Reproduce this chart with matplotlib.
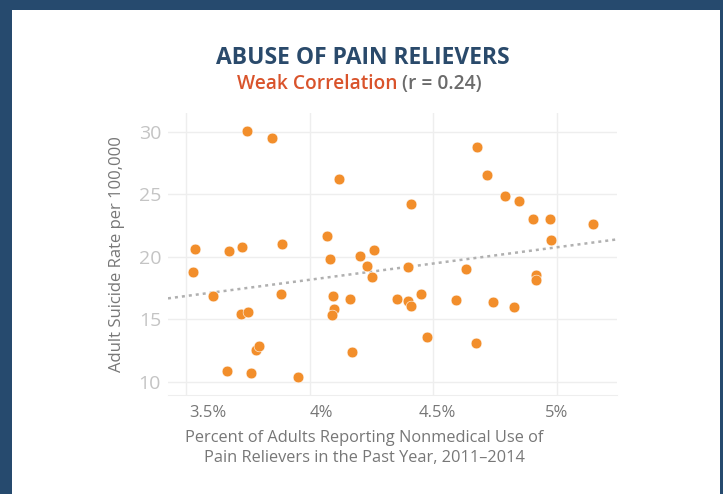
import numpy as np
import matplotlib as mpl
mpl.use("Agg")
import matplotlib.pyplot as plt
from matplotlib.transforms import ScaledTranslation

mpl.rcParams.update({"font.family": ["Open Sans", "DejaVu Sans"]})

# percent of adults reporting nonmedical use of pain relievers (x) vs suicide rate (y)
pct_use = [3.530, 3.536, 3.610, 3.675, 3.725, 3.745, 3.849, 3.887, 3.883, 3.721,
           3.749, 3.783, 3.795, 3.664, 3.764, 3.953, 4.117, 4.071, 4.082, 4.095,
           4.099, 4.091, 4.163, 4.172, 4.203, 4.260, 4.233, 4.252, 4.409, 4.399,
           4.353, 4.399, 4.409, 4.449, 4.476, 4.676, 4.718, 4.633, 4.590, 4.671,
           4.740, 4.826, 4.791, 4.845, 4.903, 4.971, 4.975, 4.915, 4.915, 5.145]
suicide_rate = [18.8, 20.64, 16.86, 20.48, 20.78, 30.08, 29.47, 21.02, 16.99, 15.39,
                15.6, 12.56, 12.86, 10.83, 10.67, 10.35, 26.22, 21.66, 19.82, 16.86,
                15.79, 15.34, 16.62, 12.35, 20.06, 20.51, 19.28, 18.38, 24.22, 19.2,
                16.62, 16.48, 16.08, 16.99, 13.55, 28.8, 26.51, 19.04, 16.54, 13.12,
                16.4, 16.0, 24.83, 24.46, 23.02, 23.02, 21.34, 18.51, 18.14, 22.64]

# trend line ends
trend_x = [3.427, 5.243]
trend_y = [16.67, 21.39]

x_ticks = [3.5, 4.0, 4.5, 5.0]
x_labels = ["3.5%", "4%", "4.5%", "5%"]
y_ticks = [10, 15, 20, 25, 30]

NAVY = "#264a6e"
ORANGE = "#f28e2b"
GREY = "#777777"

fig = plt.figure(figsize=(7.23, 4.94), dpi=100)
fig.patch.set_facecolor(NAVY)
card = plt.Rectangle((12 / 723, 0), (720 - 12) / 723, 1 - 10 / 494,
                     transform=fig.transFigure, facecolor="white", edgecolor="none", zorder=-10)
fig.patches.append(card)

ax = fig.add_axes([168 / 723, 1 - 395 / 494, (617 - 168) / 723, (395 - 113) / 494])
ax.set_facecolor("white")
ax.set_xlim(3.427, 5.243)
ax.set_ylim(8.94, 31.5)

ax.grid(True, color="#eeeeee", lw=1)
ax.set_axisbelow(True)
for s in ["top", "right", "left"]:
    ax.spines[s].set_visible(False)
ax.spines["bottom"].set_color("#eeeeee")

ax.plot(trend_x, trend_y, color="#b0b0b0", lw=1.8, ls=(0, (1.2, 1.6)), zorder=2)
ax.scatter(pct_use, suicide_rate, s=60, color=ORANGE, edgecolor="white", linewidth=0.4, zorder=3)

ax.set_xticks(x_ticks)
ax.set_xticklabels(x_labels)
ax.set_yticks(y_ticks)
ax.tick_params(axis="x", length=0, pad=7, labelsize=12, labelcolor=GREY)
ax.tick_params(axis="y", length=0, pad=5, labelsize=14, labelcolor="#c4c4c4")

# the source nudges its x tick labels to the right of the grid lines
nudge_px = [22, 12, 4, 0]
for lab, dx in zip(ax.get_xticklabels(), nudge_px):
    lab.set_transform(lab.get_transform() + ScaledTranslation(dx / 100, 0, fig.dpi_scale_trans))

ax.set_ylabel("Adult Suicide Rate per 100,000", fontsize=12, color=GREY, labelpad=10)
fig.text(364 / 723, 1 - 448 / 494,
         "Percent of Adults Reporting Nonmedical Use of\nPain Relievers in the Past Year, 2011\u20132014",
         ha="center", va="center", fontsize=11.8, color=GREY, linespacing=1.3)

fig.text(363 / 723, 1 - 58 / 494, "ABUSE OF PAIN RELIEVERS", ha="center", va="center",
         fontsize=16.5, fontweight="bold", color="#2a4a6b")
fig.text(397 / 723, 1 - 84 / 494, "Weak Correlation", ha="right", va="center",
         fontsize=13.8, fontweight="semibold", color="#d9532b")
fig.text(402 / 723, 1 - 84 / 494, "(r = 0.24)", ha="left", va="center",
         fontsize=13.8, fontweight="semibold", color="#6b6b6b")

fig.savefig("out.png", dpi=100, facecolor=fig.get_facecolor())
